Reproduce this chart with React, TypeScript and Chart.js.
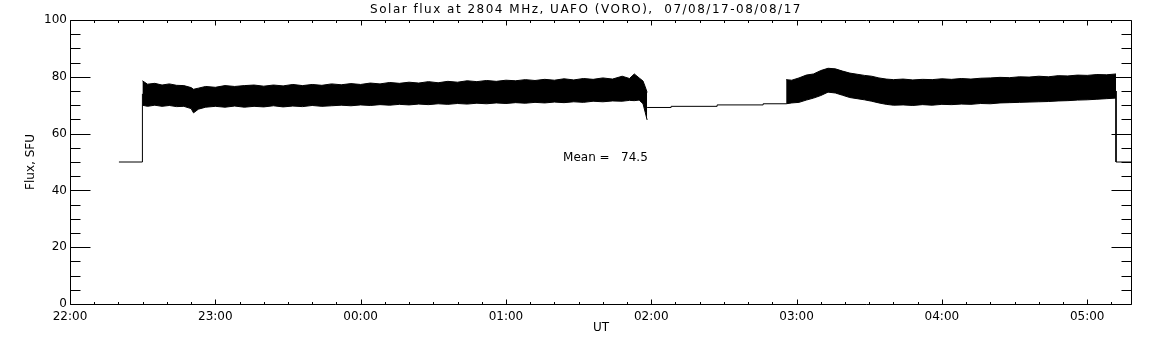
import { useEffect, useRef } from "react";
import { Chart, registerables } from "chart.js";

Chart.register(...registerables);

// ---- text ----
const TITLE = "Solar flux at 2804 MHz, UAFO (VORO),  07/08/17-08/08/17";
const X_TITLE = "UT";
const Y_TITLE = "Flux, SFU";
const MEAN_LABEL = "Mean =   74.5";
const MEAN_AT = { x: 203.6, y: 51.4 }; // minutes after 22:00, SFU

// ---- axes ----
const X_MIN = 0; // minutes after 22:00 UT
const X_MAX = 438.5;
const xTickLabels = ["22:00", "23:00", "00:00", "01:00", "02:00", "03:00", "04:00", "05:00"];
const yTickLabels = ["0", "20", "40", "60", "80", "100"];
const Y_MIN = 0;
const Y_MAX = 100;

// ---- data: minutes after 22:00 UT, flux in SFU ----
// Connecting trace (null = pen up)
const traceTimes = [20.2, 29.9, 29.9, null, 238.3, 248.2, 248.2, 267.2, 267.2, 286.2, 286.2, 295.7, null, 431.9, 431.9, 438.5];
const traceFlux = [50, 50, 74, null, 69.2, 69.2, 69.6, 69.6, 70.1, 70.1, 70.5, 70.5, null, 75, 50, 50];

// Noise band 1 (22:30 - 01:58): upper and lower envelope
const band1Times = [29.9, 32, 35, 38, 41, 44, 47, 50, 51, 53, 56, 60, 64, 68, 72, 76, 80, 84, 88, 92, 96, 100, 104, 108, 112, 116, 120, 124, 128, 132, 136, 140, 144, 148, 152, 156, 160, 164, 168, 172, 176, 180, 184, 188, 192, 196, 200, 204, 208, 212, 216, 220, 224, 228, 231, 233, 235, 236.6, 237.5, 238.3];
const band1Upper = [78.6, 77.4, 77.7, 77.1, 77.5, 77.0, 76.9, 76.2, 75.6, 76.0, 76.6, 76.3, 76.9, 76.6, 76.9, 77.1, 76.7, 77.1, 76.8, 77.3, 76.9, 77.3, 77.0, 77.5, 77.2, 77.6, 77.3, 77.8, 77.5, 78.0, 77.7, 78.1, 77.8, 78.3, 77.9, 78.4, 78.1, 78.6, 78.3, 78.7, 78.4, 78.8, 78.6, 79.0, 78.7, 79.1, 78.8, 79.3, 78.9, 79.4, 79.1, 79.6, 79.2, 80.2, 79.4, 81.0, 79.6, 78.5, 76.5, 74.5];
const band1Lower = [70.0, 69.6, 70.0, 69.6, 69.9, 69.5, 69.6, 68.8, 67.3, 68.6, 69.3, 69.6, 69.3, 69.7, 69.3, 69.6, 69.4, 69.8, 69.4, 69.7, 69.5, 69.9, 69.6, 69.8, 70.0, 69.8, 70.1, 69.9, 70.2, 70.0, 70.3, 70.1, 70.4, 70.2, 70.5, 70.3, 70.6, 70.4, 70.7, 70.5, 70.8, 70.6, 70.9, 70.7, 71.0, 70.8, 71.1, 70.9, 71.2, 71.0, 71.4, 71.2, 71.5, 71.4, 71.7, 71.6, 71.8, 70.5, 67.5, 64.8];

// Noise band 2 (02:56 - 05:12)
const band2Times = [295.7, 298, 301, 304, 307, 310, 313, 316, 319, 322, 325, 328, 331, 334, 337, 340, 344, 348, 352, 356, 360, 364, 368, 372, 376, 380, 384, 388, 392, 396, 400, 404, 408, 412, 416, 420, 424, 428, 431.9];
const band2Upper = [79.0, 78.8, 79.6, 80.6, 81.0, 82.2, 83.0, 82.8, 82.0, 81.3, 80.9, 80.5, 80.2, 79.6, 79.2, 79.0, 79.2, 78.9, 79.1, 79.0, 79.3, 79.1, 79.4, 79.2, 79.5, 79.6, 79.8, 79.7, 80.0, 79.9, 80.2, 80.0, 80.4, 80.3, 80.6, 80.5, 80.8, 80.7, 81.0];
const band2Lower = [70.5, 70.8, 71.0, 71.8, 72.5, 73.4, 74.6, 74.3, 73.5, 72.7, 72.3, 71.9, 71.4, 70.8, 70.3, 70.0, 70.1, 69.9, 70.2, 70.0, 70.3, 70.2, 70.4, 70.3, 70.6, 70.5, 70.8, 70.9, 71.0, 71.1, 71.2, 71.3, 71.5, 71.6, 71.8, 71.9, 72.1, 72.3, 72.5];

const FONT = '"DejaVu Sans", sans-serif';
const INK = "#000000";

function pts(xs: (number | null)[], ys: (number | null)[]) {
  return xs.map((x, i) => (x === null || ys[i] === null ? { x: NaN, y: NaN } : { x: x as number, y: ys[i] as number }));
}

const idlFrame = {
  id: "idlFrame",
  afterDraw(chart: any) {
    const { ctx, chartArea: a, scales } = chart;
    const xs = scales.x;
    const ys = scales.y;
    const L = Math.round(a.left) + 0.5;
    const R = Math.round(a.right) - 0.5;
    const T = Math.round(a.top) + 0.5;
    const B = Math.round(a.bottom) + 0.5;
    ctx.save();
    ctx.strokeStyle = INK;
    ctx.lineWidth = 1;
    ctx.beginPath();
    ctx.moveTo(L, T);
    ctx.lineTo(R, T);
    ctx.lineTo(R, B);
    ctx.lineTo(L, B);
    ctx.closePath();
    // y ticks (major 20, minor 5) on both sides, pointing inward
    for (let v = Y_MIN; v <= Y_MAX; v += 5) {
      const p = Math.round(ys.getPixelForValue(v)) + 0.5;
      const len = v % 20 === 0 ? 20 : 10;
      ctx.moveTo(L, p);
      ctx.lineTo(L + len, p);
      ctx.moveTo(R, p);
      ctx.lineTo(R - len, p);
    }
    // x ticks (major 60 min, minor 10 min) on bottom and top
    for (let m = X_MIN; m <= X_MAX; m += 10) {
      const p = Math.round(xs.getPixelForValue(m)) + 0.5;
      const len = m % 60 === 0 ? 5 : 2.5;
      ctx.moveTo(p, B);
      ctx.lineTo(p, B - len);
      ctx.moveTo(p, T);
      ctx.lineTo(p, T + len);
    }
    ctx.stroke();

    ctx.fillStyle = INK;
    ctx.font = `12px ${FONT}`;
    ctx.textBaseline = "middle";
    ctx.textAlign = "center";
    ctx.save();
    (ctx as any).letterSpacing = "1.5px";
    ctx.fillText(TITLE, 586, 10);
    ctx.restore();
    ctx.fillText(X_TITLE, 601, 328);
    ctx.textAlign = "left";
    ctx.fillText(MEAN_LABEL, xs.getPixelForValue(MEAN_AT.x), ys.getPixelForValue(MEAN_AT.y));
    ctx.save();
    ctx.translate(30.5, 162);
    ctx.rotate(-Math.PI / 2);
    ctx.textAlign = "center";
    ctx.fillText(Y_TITLE, 0, 0);
    ctx.restore();
    ctx.restore();
  },
};

export default function App() {
  const ref = useRef<HTMLCanvasElement | null>(null);
  useEffect(() => {
    if (!ref.current) return;
    const lineBase = {
      borderColor: INK,
      borderWidth: 1,
      pointRadius: 0,
      tension: 0,
      spanGaps: false,
    };
    const chart = new Chart(ref.current, {
      type: "line",
      data: {
        datasets: [
          { ...lineBase, label: "b1lo", data: pts(band1Times, band1Lower), fill: false },
          { ...lineBase, label: "b1hi", data: pts(band1Times, band1Upper), fill: "-1", backgroundColor: INK },
          { ...lineBase, label: "b2lo", data: pts(band2Times, band2Lower), fill: false },
          { ...lineBase, label: "b2hi", data: pts(band2Times, band2Upper), fill: "-1", backgroundColor: INK },
          { ...lineBase, label: "trace", data: pts(traceTimes, traceFlux), fill: false },
        ] as any,
      },
      options: {
        animation: false,
        responsive: false,
        devicePixelRatio: 1,
        layout: { padding: { left: 0, right: 20, top: 20, bottom: 0 } },
        plugins: { legend: { display: false }, title: { display: false }, tooltip: { enabled: false } },
        scales: {
          x: {
            type: "linear",
            min: X_MIN,
            max: X_MAX,
            grid: { display: false, drawTicks: false },
            border: { display: false },
            ticks: {
              stepSize: 60,
              includeBounds: false,
              autoSkip: false,
              maxRotation: 0,
              padding: 6,
              color: INK,
              font: { family: FONT, size: 12 },
              callback: (v: any) => xTickLabels[Math.round(Number(v) / 60)] ?? "",
            },
            afterFit: (s: any) => {
              s.height = 41;
            },
          },
          y: {
            type: "linear",
            min: Y_MIN,
            max: Y_MAX,
            grid: { display: false, drawTicks: false },
            border: { display: false },
            ticks: {
              stepSize: 20,
              autoSkip: false,
              padding: 3,
              color: INK,
              font: { family: FONT, size: 12 },
              callback: (v: any) => yTickLabels[Math.round(Number(v) / 20)] ?? "",
            },
            afterFit: (s: any) => {
              s.width = 70;
            },
          },
        },
      } as any,
      plugins: [idlFrame],
    });
    return () => chart.destroy();
  }, []);
  return (
    <canvas
      ref={ref}
      width={1152}
      height={345}
      style={{ position: "fixed", left: 0, top: 0, width: 1152, height: 345, background: "#fff" }}
    />
  );
}
